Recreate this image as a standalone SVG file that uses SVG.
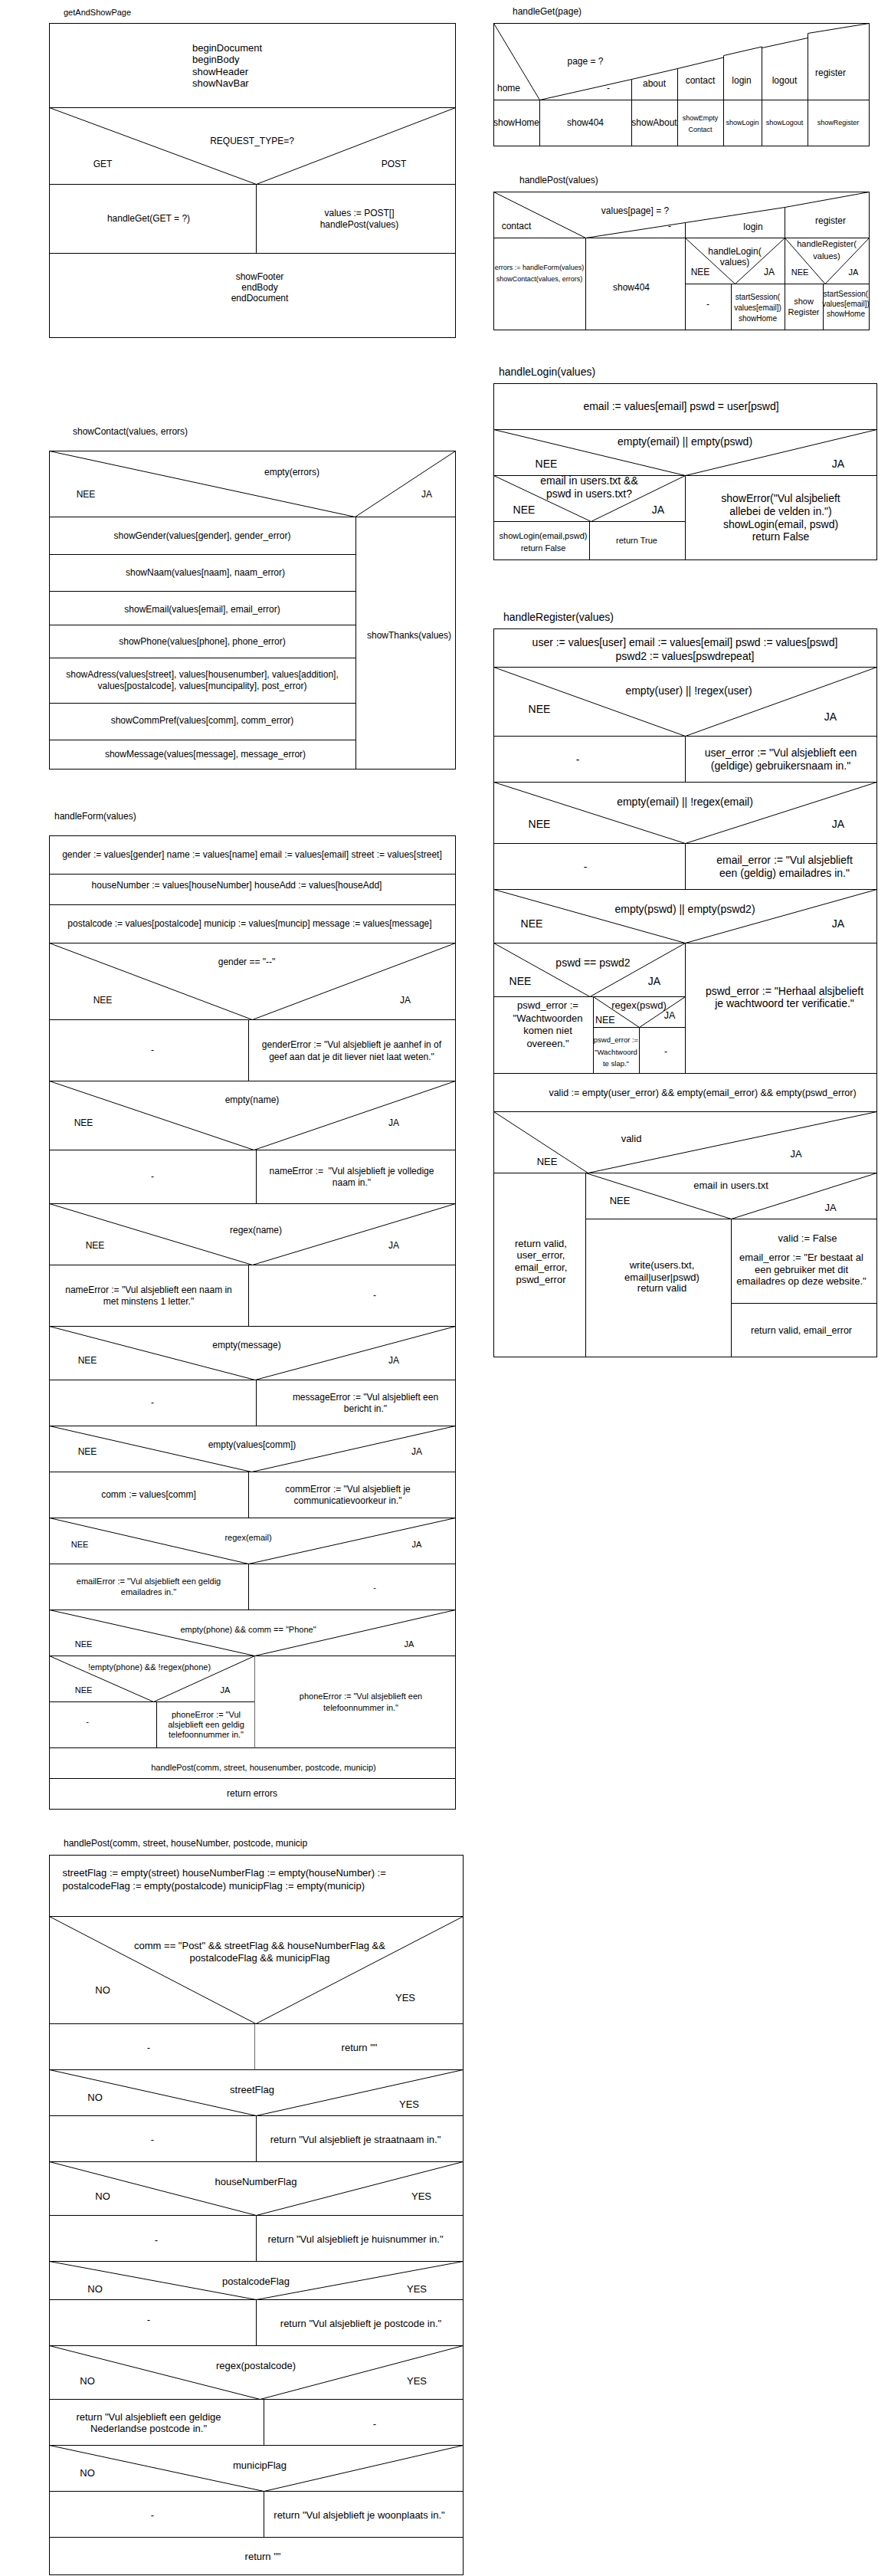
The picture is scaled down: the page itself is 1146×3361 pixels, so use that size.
<svg xmlns="http://www.w3.org/2000/svg" width="1146" height="3361" viewBox="0 0 1146 3361">
<style>
.ln{stroke:#000;stroke-width:1;fill:none}
.gr{stroke:#666;stroke-width:1;fill:none}
text{font-family:"Liberation Sans",Arial,Helvetica,sans-serif;fill:#000;dominant-baseline:central;text-anchor:middle}
.s{text-anchor:start}
.f9{font-size:9px}.f95{font-size:9.5px}.f10{font-size:10px}.f11{font-size:11px}.f12{font-size:12px}.f125{font-size:12.5px}.f13{font-size:13px}.f14{font-size:14px}
</style>
<rect width="1146" height="3361" fill="#fff"/>

<g id="getAndShowPage">
<text class="s f11" x="83" y="16">getAndShowPage</text>
<rect class="ln" x="64.5" y="30.5" width="530" height="410"/>
<path class="ln" d="M64.5 140.5H594.5M64.5 240.5H594.5M64.5 330.5H594.5M64.5 140.5L334.5 240.5L594.5 140.5M334.5 240.5V330.5"/>
<text class="s f13" x="251" y="62">beginDocument</text>
<text class="s f13" x="251" y="77.5">beginBody</text>
<text class="s f13" x="251" y="93">showHeader</text>
<text class="s f13" x="251" y="108.5">showNavBar</text>
<text class="f12" x="329" y="184">REQUEST_TYPE=?</text>
<text class="f12" x="134" y="214">GET</text>
<text class="f12" x="514" y="214">POST</text>
<text class="f12" x="194" y="285">handleGet(GET = ?)</text>
<text class="f12" x="469" y="278">values := POST[]</text>
<text class="f12" x="469" y="293">handlePost(values)</text>
<text class="f12" x="339" y="361">showFooter</text>
<text class="f12" x="339" y="375">endBody</text>
<text class="f12" x="339" y="389">endDocument</text>
</g>

<g id="handleGet">
<text class="s f12" x="669" y="15">handleGet(page)</text>
<rect class="ln" x="644.5" y="30.5" width="490" height="160"/>
<path class="ln" d="M644.5 130.5H1134.5M644.5 30.5L704.5 130.5M704.5 130.5L824.5 103.5L884.5 89.5L944.5 75M944.5 72.5L994.5 61M994.5 62.5L1054.5 49.5M1054.5 43.5L1134.5 30.5M704.5 130.5V190.5M824.5 103.5V190.5M884.5 89.5V190.5M944.5 72.5V190.5M994.5 61V190.5M1054.5 43.5V190.5"/>
<text class="f12" x="764" y="80">page = ?</text>
<text class="f12" x="664" y="115">home</text>
<text class="f12" x="794" y="115">-</text>
<text class="f12" x="854" y="109">about</text>
<text class="f12" x="914" y="105">contact</text>
<text class="f12" x="968" y="105">login</text>
<text class="f12" x="1024" y="105">logout</text>
<text class="f12" x="1084" y="95">register</text>
<text class="f12" x="674" y="160">showHome</text>
<text class="f12" x="764" y="160">show404</text>
<text class="f12" x="854" y="160">showAbout</text>
<text class="f9" x="914" y="154">showEmpty</text>
<text class="f9" x="914" y="169">Contact</text>
<text class="f9" x="969" y="160">showLogin</text>
<text class="f9" x="1024" y="160">showLogout</text>
<text class="f9" x="1094" y="160">showRegister</text>
</g>

<g id="handlePostValues">
<text class="s f12" x="678" y="235">handlePost(values)</text>
<rect class="ln" x="644.5" y="250.5" width="490" height="180"/>
<path class="ln" d="M644.5 310.5H1134.5M894.5 370.5H1134.5M644.5 250.5L764.5 310.5M764.5 310.5L894.5 290.5L1024.5 270.5L1134.5 250.5M764.5 310.5V430.5M894.5 290.5V430.5M1024.5 270.5V430.5M954.5 370.5V430.5M1074.5 370.5V430.5M894.5 310.5L959.5 370.5L1024.5 310.5M1024.5 310.5L1077 370.5L1134.5 310.5"/>
<text class="f12" x="829" y="275">values[page] = ?</text>
<text class="f12" x="674" y="295">contact</text>
<text class="f12" x="874" y="295">-</text>
<text class="f12" x="983" y="296">login</text>
<text class="f12" x="1084" y="288">register</text>
<text class="f12" x="959" y="328">handleLogin(</text>
<text class="f12" x="959" y="342">values)</text>
<text class="f12" x="914" y="355">NEE</text>
<text class="f12" x="1004" y="355">JA</text>
<text class="f11" x="1079" y="318">handleRegister(</text>
<text class="f11" x="1079" y="334">values)</text>
<text class="f11" x="1044" y="355">NEE</text>
<text class="f11" x="1114" y="355">JA</text>
<text class="f9" x="704" y="349">errors := handleForm(values)</text>
<text class="f9" x="704" y="364">showContact(values, errors)</text>
<text class="f12" x="824" y="375">show404</text>
<text class="f12" x="924" y="397">-</text>
<text class="f10" x="989" y="387">startSession(</text>
<text class="f10" x="989" y="401">values[email])</text>
<text class="f10" x="989" y="415">showHome</text>
<text class="f11" x="1049" y="393">show</text>
<text class="f11" x="1049" y="407">Register</text>
<text class="f10" x="1104" y="383">startSession(</text>
<text class="f10" x="1104" y="396">values[email])</text>
<text class="f10" x="1104" y="409">showHome</text>
</g>

<g id="handleLogin">
<text class="s f14" x="651" y="485">handleLogin(values)</text>
<rect class="ln" x="644.5" y="500.5" width="500" height="230"/>
<path class="ln" d="M644.5 560.5H1144.5M644.5 620.5H1144.5M644.5 680.5H894.5M644.5 560.5L894.5 620.5L1144.5 560.5M644.5 620.5L771.5 680.5L894.5 620.5M894.5 620.5V730.5M769.5 680.5V730.5"/>
<text class="f14" x="889" y="530">email := values[email] pswd = user[pswd]</text>
<text class="f14" x="894" y="576">empty(email) || empty(pswd)</text>
<text class="f14" x="713" y="605">NEE</text>
<text class="f14" x="1094" y="605">JA</text>
<text class="f14" x="769" y="627">email in users.txt &amp;&amp;</text>
<text class="f14" x="769" y="644">pswd in users.txt?</text>
<text class="f14" x="684" y="665">NEE</text>
<text class="f14" x="859" y="665">JA</text>
<text class="f11" x="709" y="699">showLogin(email,pswd)</text>
<text class="f11" x="709" y="715">return False</text>
<text class="f11" x="831" y="705">return True</text>
<text class="f14" x="1019" y="650">showError("Vul alsjbelieft</text>
<text class="f14" x="1019" y="667">allebei de velden in.")</text>
<text class="f14" x="1019" y="684">showLogin(email, pswd)</text>
<text class="f14" x="1019" y="700">return False</text>
</g>

<g id="handleRegister">
<text class="s f14" x="657" y="805">handleRegister(values)</text>
<rect class="ln" x="644.5" y="820.5" width="500" height="950"/>
<path class="ln" d="M644.5 870.5H1144.5M644.5 960.5H1144.5M644.5 1020.5H1144.5M644.5 1100.5H1144.5M644.5 1160.5H1144.5M644.5 1230.5H1144.5M644.5 1400.5H1144.5M644.5 1450.5H1144.5M644.5 1530.5H1144.5M644.5 870.5L894.5 960.5L1144.5 870.5M894.5 960.5V1020.5M644.5 1020.5L894.5 1100.5L1144.5 1020.5M894.5 1100.5V1160.5M644.5 1160.5L894.5 1230.5L1144.5 1160.5M894.5 1230.5V1400.5M644.5 1230.5L770 1300.5L894.5 1230.5M644.5 1300.5H894.5M774.5 1300.5V1400.5M774.5 1300.5L834.5 1340.5L894.5 1300.5M774.5 1340.5H894.5M834.5 1340.5V1400.5M644.5 1450.5L767.5 1530.5L1144.5 1450.5M764.5 1530.5V1770.5M764.5 1530.5L954.5 1590.5L1144.5 1530.5M764.5 1590.5H1144.5M954.5 1590.5V1770.5M954.5 1700.5H1144.5"/>
<text class="f14" x="894" y="838">user := values[user] email := values[email] pswd := values[pswd]</text>
<text class="f14" x="894" y="856">pswd2 := values[pswdrepeat]</text>
<text class="f14" x="899" y="901">empty(user) || !regex(user)</text>
<text class="f14" x="704" y="925">NEE</text>
<text class="f14" x="1084" y="935">JA</text>
<text class="f14" x="754" y="991">-</text>
<text class="f14" x="1019" y="982">user_error := "Vul alsjeblieft een</text>
<text class="f14" x="1019" y="999">(geldige) gebruikersnaam in."</text>
<text class="f14" x="894" y="1046">empty(email) || !regex(email)</text>
<text class="f14" x="704" y="1075">NEE</text>
<text class="f14" x="1094" y="1075">JA</text>
<text class="f14" x="764" y="1131">-</text>
<text class="f14" x="1024" y="1122">email_error := "Vul alsjeblieft</text>
<text class="f14" x="1024" y="1139">een (geldig) emailadres in."</text>
<text class="f14" x="894" y="1186">empty(pswd) || empty(pswd2)</text>
<text class="f14" x="694" y="1205">NEE</text>
<text class="f14" x="1094" y="1205">JA</text>
<text class="f14" x="774" y="1256">pswd == pswd2</text>
<text class="f14" x="679" y="1280">NEE</text>
<text class="f14" x="854" y="1280">JA</text>
<text class="f14" x="1024" y="1293">pswd_error := "Herhaal alsjbelieft</text>
<text class="f14" x="1024" y="1309">je wachtwoord ter verificatie."</text>
<text class="f13" x="715" y="1311">pswd_error :=</text>
<text class="f13" x="715" y="1328">"Wachtwoorden</text>
<text class="f13" x="715" y="1344">komen niet</text>
<text class="f13" x="715" y="1361">overeen."</text>
<text class="f13" x="834" y="1311">regex(pswd)</text>
<text class="s f125" x="777" y="1331">NEE</text>
<text class="f125" x="874" y="1325">JA</text>
<text class="f95" x="804" y="1356">pswd_error :=</text>
<text class="f95" x="804" y="1372">"Wachtwoord</text>
<text class="f95" x="804" y="1387">te slap."</text>
<text class="f12" x="869" y="1372">-</text>
<text class="f125" x="917" y="1426">valid := empty(user_error) &amp;&amp; empty(email_error) &amp;&amp; empty(pswd_error)</text>
<text class="f13" x="824" y="1485">valid</text>
<text class="f13" x="714" y="1515">NEE</text>
<text class="f13" x="1039" y="1505">JA</text>
<text class="f13" x="706" y="1622">return valid,</text>
<text class="f13" x="706" y="1637">user_error,</text>
<text class="f13" x="706" y="1653">email_error,</text>
<text class="f13" x="706" y="1669">pswd_error</text>
<text class="f13" x="954" y="1546">email in users.txt</text>
<text class="f13" x="809" y="1566">NEE</text>
<text class="f13" x="1084" y="1575">JA</text>
<text class="f13" x="864" y="1650">write(users.txt,</text>
<text class="f13" x="864" y="1666">email|user|pswd)</text>
<text class="f13" x="864" y="1680">return valid</text>
<text class="f13" x="1054" y="1615">valid := False</text>
<text class="f13" x="1046" y="1640">email_error := "Er bestaat al</text>
<text class="f13" x="1046" y="1656">een gebruiker met dit</text>
<text class="f13" x="1046" y="1671">emailadres op deze website."</text>
<text class="f125" x="1046" y="1736">return valid, email_error</text>
</g>

<g id="showContact">
<text class="s f12" x="95" y="563">showContact(values, errors)</text>
<rect class="ln" x="64.5" y="588.5" width="530" height="415"/>
<path class="ln" d="M64.5 674.5H594.5M64.5 588.5L463.5 674.5L594.5 588.5M464.5 674.5V1003.5M64.5 723.5H464.5M64.5 771.5H464.5M64.5 815.5H464.5M64.5 858.5H464.5M64.5 917.5H464.5M64.5 965.5H464.5"/>
<text class="f12" x="381" y="616">empty(errors)</text>
<text class="f12" x="112" y="645">NEE</text>
<text class="f12" x="557" y="645">JA</text>
<text class="f12" x="264" y="699">showGender(values[gender], gender_error)</text>
<text class="f12" x="268" y="747">showNaam(values[naam], naam_error)</text>
<text class="f12" x="264" y="795">showEmail(values[email], email_error)</text>
<text class="f12" x="264" y="837">showPhone(values[phone], phone_error)</text>
<text class="f12" x="264" y="880">showAdress(values[street], values[housenumber], values[addition],</text>
<text class="f12" x="264" y="895">values[postalcode], values[muncipality], post_error)</text>
<text class="f12" x="264" y="940">showCommPref(values[comm], comm_error)</text>
<text class="f12" x="268" y="984">showMessage(values[message], message_error)</text>
<text class="f12" x="534" y="829">showThanks(values)</text>
</g>

<g id="handleForm">
<text class="s f12" x="71" y="1065">handleForm(values)</text>
<rect class="ln" x="64.5" y="1090.5" width="530" height="1270"/>
<path class="ln" d="M64.5 1140.5H594.5M64.5 1180.5H594.5M64.5 1230.5H594.5M64.5 1330.5H594.5M64.5 1410.5H594.5M64.5 1500.5H594.5M64.5 1570.5H594.5M64.5 1650.5H594.5M64.5 1730.5H594.5M64.5 1800.5H594.5M64.5 1860.5H594.5M64.5 1920.5H594.5M64.5 1980.5H594.5M64.5 2040.5H594.5M64.5 2100.5H594.5M64.5 2160.5H594.5M64.5 2280.5H594.5M64.5 2320.5H594.5M64.5 1230.5L329.5 1330.5L594.5 1230.5M324.5 1330.5V1410.5M64.5 1410.5L331.5 1500.5L594.5 1410.5M334.5 1500.5V1570.5M64.5 1570.5L329.5 1650.5L594.5 1570.5M324.5 1650.5V1730.5M64.5 1730.5L333 1800.5L594.5 1730.5M334.5 1800.5V1860.5M64.5 1860.5L328.5 1920.5L594.5 1860.5M324.5 1920.5V1980.5M64.5 1980.5L324.5 2040.5L594.5 1980.5M324.5 2040.5V2100.5M64.5 2100.5L332.5 2160.5L594.5 2100.5M64.5 2160.5L200.5 2220.5L332.5 2160.5M64.5 2220.5H332.5M204.5 2220.5V2280.5"/>
<path class="gr" d="M332.5 2160.5V2280.5"/>
<text class="f12" x="329" y="1115">gender := values[gender] name := values[name] email := values[email] street := values[street]</text>
<text class="f12" x="309" y="1155">houseNumber := values[houseNumber] houseAdd := values[houseAdd]</text>
<text class="f12" x="326" y="1205">postalcode := values[postalcode] municip := values[muncip] message := values[message]</text>
<text class="f12" x="322" y="1255">gender == "--"</text>
<text class="f12" x="134" y="1305">NEE</text>
<text class="f12" x="529" y="1305">JA</text>
<text class="f12" x="199" y="1370">-</text>
<text class="f12" x="459" y="1363">genderError := "Vul alsjeblieft je aanhef in of</text>
<text class="f12" x="459" y="1379">geef aan dat je dit liever niet laat weten."</text>
<text class="f12" x="329" y="1435">empty(name)</text>
<text class="f12" x="109" y="1465">NEE</text>
<text class="f12" x="514" y="1465">JA</text>
<text class="f12" x="199" y="1535">-</text>
<text class="f12" x="459" y="1528">nameError :=&#160; "Vul alsjeblieft je volledige</text>
<text class="f12" x="459" y="1543">naam in."</text>
<text class="f12" x="334" y="1605">regex(name)</text>
<text class="f12" x="124" y="1625">NEE</text>
<text class="f12" x="514" y="1625">JA</text>
<text class="f12" x="194" y="1683">nameError := "Vul alsjeblieft een naam in</text>
<text class="f12" x="194" y="1698">met minstens 1 letter."</text>
<text class="f12" x="489" y="1690">-</text>
<text class="f12" x="322" y="1755">empty(message)</text>
<text class="f12" x="114" y="1775">NEE</text>
<text class="f12" x="514" y="1775">JA</text>
<text class="f12" x="199" y="1830">-</text>
<text class="f12" x="477" y="1823">messageError := "Vul alsjeblieft een</text>
<text class="f12" x="477" y="1838">bericht in."</text>
<text class="f12" x="329" y="1885">empty(values[comm])</text>
<text class="f12" x="114" y="1894">NEE</text>
<text class="f12" x="544" y="1894">JA</text>
<text class="f12" x="194" y="1950">comm := values[comm]</text>
<text class="f12" x="454" y="1943">commError := "Vul alsjeblieft je</text>
<text class="f12" x="454" y="1958">communicatievoorkeur in."</text>
<text class="f11" x="324" y="2006">regex(email)</text>
<text class="f11" x="104" y="2015">NEE</text>
<text class="f11" x="544" y="2015">JA</text>
<text class="f11" x="194" y="2063">emailError := "Vul alsjeblieft een geldig</text>
<text class="f11" x="194" y="2077">emailadres in."</text>
<text class="f11" x="489" y="2071">-</text>
<text class="f11" x="324" y="2126">empty(phone) &amp;&amp; comm == "Phone"</text>
<text class="f11" x="109" y="2145">NEE</text>
<text class="f11" x="534" y="2145">JA</text>
<text class="f11" x="195" y="2175">!empty(phone) &amp;&amp; !regex(phone)</text>
<text class="f11" x="109" y="2205">NEE</text>
<text class="f11" x="294" y="2205">JA</text>
<text class="f11" x="114" y="2246">-</text>
<text class="f11" x="269" y="2237">phoneError := "Vul</text>
<text class="f11" x="269" y="2250">alsjeblieft een geldig</text>
<text class="f11" x="269" y="2263">telefoonnummer in."</text>
<text class="f11" x="471" y="2213">phoneError := "Vul alsjeblieft een</text>
<text class="f11" x="471" y="2228">telefoonnummer in."</text>
<text class="f11" x="344" y="2306">handlePost(comm, street, housenumber, postcode, municip)</text>
<text class="f12" x="329" y="2340">return errors</text>
</g>

<g id="handlePost">
<text class="s f12" x="83" y="2405">handlePost(comm, street, houseNumber, postcode, municip</text>
<rect class="ln" x="64.5" y="2420.5" width="540" height="939"/>
<path class="ln" d="M64.5 2500.5H604.5M64.5 2640.5H604.5M64.5 2700.5H604.5M64.5 2760.5H604.5M64.5 2820.5H604.5M64.5 2890.5H604.5M64.5 2950.5H604.5M64.5 3000.5H604.5M64.5 3060.5H604.5M64.5 3130.5H604.5M64.5 3190.5H604.5M64.5 3250.5H604.5M64.5 3310.5H604.5M64.5 2500.5L334 2640.5L604.5 2500.5M64.5 2700.5L334.5 2760.5L604.5 2700.5M334.5 2760.5V2820.5M64.5 2820.5L334.5 2890.5L604.5 2820.5M334.5 2890.5V2950.5M64.5 2950.5L334.5 3000.5L604.5 2950.5M334.5 3000.5V3060.5M64.5 3060.5L339.5 3130.5L604.5 3060.5M344.5 3130.5V3190.5M64.5 3190.5L344.5 3250.5L604.5 3190.5M344.5 3250.5V3310.5"/>
<path class="gr" d="M332.5 2640.5V2700.5"/>
<text class="s f13" x="81.5" y="2443">streetFlag := empty(street) houseNumberFlag := empty(houseNumber) :=</text>
<text class="s f13" x="81.5" y="2460">postalcodeFlag := empty(postalcode) municipFlag := empty(municip)</text>
<text class="f13" x="339" y="2538">comm == "Post" &amp;&amp; streetFlag &amp;&amp; houseNumberFlag &amp;&amp;</text>
<text class="f13" x="339" y="2554">postalcodeFlag &amp;&amp; municipFlag</text>
<text class="f13" x="134" y="2596">NO</text>
<text class="f13" x="529" y="2606">YES</text>
<text class="f13" x="194" y="2671">-</text>
<text class="f13" x="469" y="2671">return ""</text>
<text class="f13" x="329" y="2726">streetFlag</text>
<text class="f13" x="124" y="2736">NO</text>
<text class="f13" x="534" y="2745">YES</text>
<text class="f13" x="199" y="2791">-</text>
<text class="f13" x="464" y="2791">return "Vul alsjeblieft je straatnaam in."</text>
<text class="f13" x="334" y="2846">houseNumberFlag</text>
<text class="f13" x="134" y="2865">NO</text>
<text class="f13" x="550" y="2865">YES</text>
<text class="f13" x="204" y="2922">-</text>
<text class="f13" x="464" y="2921">return "Vul alsjeblieft je huisnummer in."</text>
<text class="f13" x="334" y="2976">postalcodeFlag</text>
<text class="f13" x="124" y="2986">NO</text>
<text class="f13" x="544" y="2986">YES</text>
<text class="f13" x="194" y="3026">-</text>
<text class="f13" x="471" y="3031">return "Vul alsjeblieft je postcode in."</text>
<text class="f13" x="334" y="3086">regex(postalcode)</text>
<text class="f13" x="114" y="3106">NO</text>
<text class="f13" x="544" y="3106">YES</text>
<text class="f13" x="194" y="3153">return "Vul alsjeblieft een geldige</text>
<text class="f13" x="194" y="3168">Nederlandse postcode in."</text>
<text class="f13" x="489" y="3162">-</text>
<text class="f13" x="339" y="3216">municipFlag</text>
<text class="f13" x="114" y="3226">NO</text>
<text class="f13" x="199" y="3281">-</text>
<text class="f13" x="469" y="3281">return "Vul alsjeblieft je woonplaats in."</text>
<text class="f13" x="343" y="3335">return ""</text>
</g>
</svg>
